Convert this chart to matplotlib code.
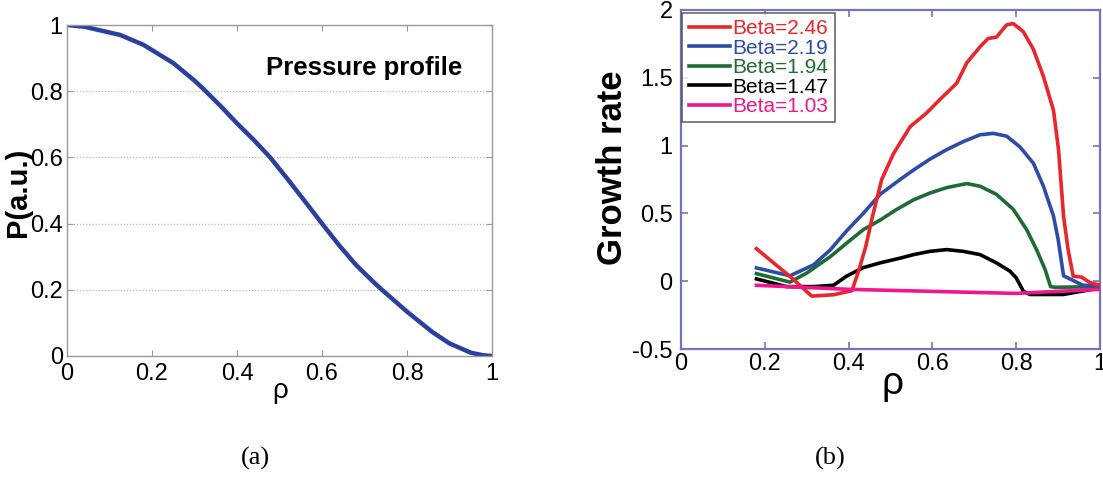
import matplotlib
matplotlib.use("Agg")
import matplotlib.pyplot as plt
from matplotlib import font_manager

names = {f.name for f in font_manager.fontManager.ttflist}
NARROW = "Liberation Sans Narrow" if "Liberation Sans Narrow" in names else "Liberation Sans"
SANS = "Liberation Sans"
SERIF = "Liberation Serif"

# ---- Panel (a): pressure profile ----
rho_p = [0.0, 0.04, 0.125, 0.18, 0.25, 0.30, 0.32, 0.36, 0.40, 0.44, 0.478, 0.52,
         0.56, 0.60, 0.64, 0.68, 0.72, 0.741, 0.80, 0.86, 0.90, 0.95, 0.98, 1.0]
pressure = [1.0, 0.995, 0.97, 0.94, 0.885, 0.832, 0.808, 0.757, 0.703, 0.652, 0.60,
            0.533, 0.467, 0.40, 0.335, 0.275, 0.225, 0.20, 0.134, 0.072, 0.038,
            0.01, 0.002, 0.0]
ticks_a = [0, 0.2, 0.4, 0.6, 0.8, 1]
ticklabels_a = ["0", "0.2", "0.4", "0.6", "0.8", "1"]

# ---- Panel (b): growth rate ----
labels_b = ["Beta=2.46", "Beta=2.19", "Beta=1.94", "Beta=1.47", "Beta=1.03"]
colors_b = ["#e8262c", "#2d4ba8", "#1d6b35", "#000000", "#f0168c"]

rho_246 = [0.18, 0.264, 0.312, 0.364, 0.408, 0.425, 0.441, 0.457, 0.479, 0.507,
           0.547, 0.586, 0.618, 0.658, 0.682, 0.714, 0.733, 0.753, 0.777, 0.793,
           0.817, 0.841, 0.865, 0.889, 0.901, 0.913, 0.924, 0.936, 0.956, 0.976, 1.0]
gr_246 = [0.24, 0.025, -0.11, -0.10, -0.07, 0.086, 0.256, 0.477, 0.75, 0.94,
          1.14, 1.24, 1.34, 1.46, 1.61, 1.73, 1.79, 1.80, 1.89, 1.90,
          1.84, 1.71, 1.51, 1.26, 0.97, 0.48, 0.23, 0.037, 0.03, -0.01, -0.03]

rho_219 = [0.18, 0.26, 0.316, 0.356, 0.395, 0.435, 0.475, 0.523, 0.555, 0.594,
           0.634, 0.674, 0.714, 0.745, 0.777, 0.809, 0.841, 0.865, 0.889, 0.90,
           0.913, 0.959, 1.0]
gr_219 = [0.098, 0.04, 0.12, 0.23, 0.37, 0.50, 0.64, 0.75, 0.82, 0.90,
          0.97, 1.03, 1.08, 1.09, 1.07, 0.99, 0.87, 0.70, 0.48, 0.31,
          0.04, -0.03, -0.035]

rho_194 = [0.18, 0.26, 0.30, 0.356, 0.395, 0.435, 0.475, 0.515, 0.555, 0.594,
           0.634, 0.682, 0.714, 0.753, 0.793, 0.825, 0.849, 0.869, 0.882, 0.893, 1.0]
gr_194 = [0.056, -0.007, 0.06, 0.18, 0.28, 0.38, 0.45, 0.53, 0.60, 0.65,
          0.69, 0.72, 0.70, 0.64, 0.53, 0.38, 0.23, 0.086, -0.04, -0.045, -0.04]

rho_147 = [0.18, 0.252, 0.316, 0.364, 0.395, 0.435, 0.475, 0.523, 0.555, 0.594,
           0.634, 0.674, 0.714, 0.753, 0.785, 0.80, 0.817, 0.833, 0.912, 1.0]
gr_147 = [0.017, -0.04, -0.04, -0.03, 0.037, 0.10, 0.135, 0.17, 0.196, 0.22,
          0.233, 0.22, 0.196, 0.135, 0.074, 0.025, -0.074, -0.098, -0.098, -0.05]

rho_103 = [0.18, 0.40, 0.60, 0.80, 1.0]
gr_103 = [-0.03, -0.06, -0.075, -0.09, -0.06]

ticks_bx = [0, 0.2, 0.4, 0.6, 0.8, 1]
ticklabels_bx = ["0", "0.2", "0.4", "0.6", "0.8", "1"]
ticks_by = [-0.5, 0, 0.5, 1, 1.5, 2]
ticklabels_by = ["-0.5", "0", "0.5", "1", "1.5", "2"]

fig = plt.figure(figsize=(11.03, 4.84), dpi=100)

# Panel (a)
ax1 = fig.add_axes([67/1103, 1-356/484, (492-67)/1103, (356-25)/484])
ax1.plot(rho_p, pressure, color="#2a3f9e", lw=3.2, solid_capstyle="round")
ax1.set_xlim(0, 1)
ax1.set_ylim(0, 1)
ax1.set_xticks(ticks_a)
ax1.set_xticklabels(ticklabels_a)
ax1.set_yticks(ticks_a)
ax1.set_yticklabels(ticklabels_a)
for y in [0.2, 0.4, 0.6, 0.8]:
    ax1.axhline(y, color="#bbbbbb", lw=0.9, ls=(0, (1, 1.5)), zorder=0)
for s in ax1.spines.values():
    s.set_color("#999999")
    s.set_linewidth(1.0)
ax1.tick_params(direction="in", length=4, width=0.8, color="#999999",
                top=True, right=True, labelsize=17, pad=5)
ax1.tick_params(axis="y", pad=3)
for lab in ax1.get_xticklabels() + ax1.get_yticklabels():
    lab.set_fontfamily(NARROW)
ax1.set_xlabel("ρ", fontsize=20, family=SANS)
ax1.xaxis.set_label_coords((280-67)/425, (356-378)/331)
ax1.set_ylabel("P(a.u.)", fontsize=21, family=SANS, fontweight="bold")
ax1.yaxis.set_label_coords((32-67)/425, (356-192)/331)
ax1.text((462-67)/425, (356-75)/331, "Pressure profile", transform=ax1.transAxes,
         ha="right", va="baseline", fontsize=18.5, family=NARROW, fontweight="bold")

# Panel (b)
ax2 = fig.add_axes([681/1103, 1-349/484, (1100-681)/1103, (349-10)/484])
series = [(rho_246, gr_246), (rho_219, gr_219), (rho_194, gr_194),
          (rho_147, gr_147), (rho_103, gr_103)]
z = [5, 4, 3, 2, 6]
for (xs, ys), c, lab, zz in zip(series, colors_b, labels_b, z):
    ax2.plot(xs, ys, color=c, lw=2.6, label=lab, zorder=zz)
ax2.set_xlim(0, 1)
ax2.set_ylim(-0.5, 2)
ax2.set_xticks(ticks_bx)
ax2.set_xticklabels(ticklabels_bx)
ax2.set_yticks(ticks_by)
ax2.set_yticklabels(ticklabels_by)
for s in ax2.spines.values():
    s.set_color("#7474be")
    s.set_linewidth(1.6)
ax2.tick_params(direction="in", length=5, width=1.2, color="#7474be",
                top=True, right=True, labelsize=17, pad=6)
ax2.tick_params(axis="x", pad=3)
for lab in ax2.get_xticklabels() + ax2.get_yticklabels():
    lab.set_fontfamily(SANS)
ax2.set_xlabel("ρ", fontsize=28, family=SANS)
ax2.xaxis.set_label_coords((893-681)/419, (349-366)/339)
ax2.set_ylabel("Growth rate", fontsize=25, family=SANS, fontweight="bold")
ax2.yaxis.set_label_coords((629-681)/419, (349-168)/339)
leg = ax2.legend(loc="upper left", bbox_to_anchor=(0.003, 0.991),
                 frameon=True, fancybox=False, handlelength=2.0, handletextpad=0.1,
                 labelspacing=0.02, borderpad=0.3, borderaxespad=0.0,
                 prop={"family": SANS, "size": 15})
leg.get_frame().set_edgecolor("#444444")
leg.get_frame().set_linewidth(1.2)
for t, c in zip(leg.get_texts(), colors_b):
    t.set_color(c)

fig.text(255/1103, 1-458/484, "(a)", ha="center", va="center", fontsize=19, family=SERIF)
fig.text(830/1103, 1-458/484, "(b)", ha="center", va="center", fontsize=19, family=SERIF)

fig.savefig("out.png", dpi=100)
